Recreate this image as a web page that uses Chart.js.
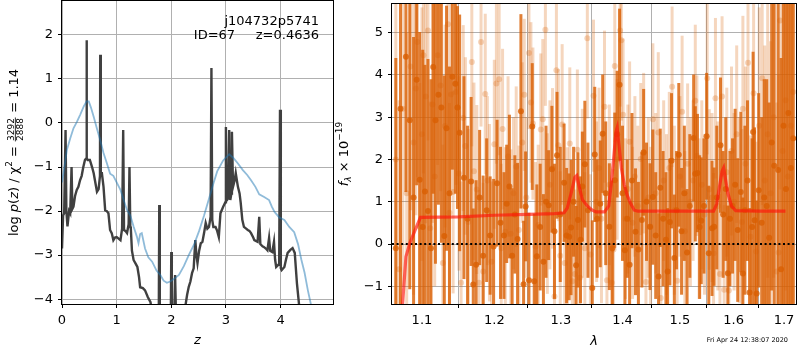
<!DOCTYPE html>
<html>
<head>
<meta charset="utf-8">
<script src="https://cdn.jsdelivr.net/npm/chart.js@4.4.1/dist/chart.umd.min.js"></script>
<style>
  body { margin: 0; background: #fff; }
  #wrap { position: relative; width: 800px; height: 350px; }
  canvas { position: absolute; top: 0; }
</style>
</head>
<body>
<div id="wrap">
  <canvas id="pz" width="336" height="350" style="left:0"></canvas>
  <canvas id="spec" width="470" height="350" style="left:330px"></canvas>
</div>
<script>
// --- p(z) panel ---
const zFit = [0.00, 0.02, 0.04, 0.065, 0.08, 0.10, 0.13, 0.15, 0.175, 0.19, 0.21, 0.24, 0.27, 0.30, 0.33, 0.36, 0.39, 0.42, 0.445, 0.45, 0.455, 0.47, 0.51, 0.55, 0.58, 0.61, 0.64, 0.67, 0.695, 0.70, 0.71, 0.73, 0.76, 0.79, 0.82, 0.85, 0.88, 0.91, 0.94, 0.97, 1.00, 1.03, 1.07, 1.10, 1.12, 1.135, 1.16, 1.19, 1.22, 1.235, 1.25, 1.26, 1.28, 1.31, 1.35, 1.38, 1.41, 1.43, 1.48, 1.52, 1.57, 1.62, 1.66, 1.72, 1.77, 1.78, 1.79, 1.85, 1.95, 1.99, 2.00, 2.01, 2.05, 2.07, 2.09, 2.15, 2.20, 2.26, 2.29, 2.32, 2.35, 2.38, 2.41, 2.44, 2.46, 2.48, 2.51, 2.54, 2.57, 2.60, 2.63, 2.66, 2.69, 2.72, 2.735, 2.75, 2.77, 2.81, 2.84, 2.87, 2.90, 2.95, 2.99, 3.00, 3.02, 3.05, 3.06, 3.08, 3.10, 3.11, 3.13, 3.16, 3.18, 3.20, 3.22, 3.25, 3.27, 3.30, 3.33, 3.37, 3.40, 3.43, 3.46, 3.50, 3.52, 3.58, 3.61, 3.63, 3.67, 3.70, 3.73, 3.76, 3.79, 3.81, 3.85, 3.88, 3.90, 3.92, 3.975, 3.99, 4.005, 4.02, 4.07, 4.10, 4.13, 4.18, 4.22, 4.26, 4.30, 4.34, 4.40];
const logpFit = [-2.85, -2.10, -2.05, -0.16, -2.00, -2.35, -2.00, -2.05, -1.00, -1.95, -1.90, -1.65, -1.52, -1.45, -1.30, -1.20, -1.00, -0.84, -0.80, 1.88, -0.80, -0.84, -0.84, -1.00, -1.14, -1.35, -1.56, -1.50, -1.20, 1.55, -1.14, -1.14, -1.45, -1.98, -2.00, -2.05, -2.43, -2.50, -2.66, -2.60, -2.59, -2.62, -2.66, -2.40, -0.16, -2.43, -2.45, -2.50, -2.30, -1.00, -2.35, -2.40, -2.90, -3.11, -3.20, -3.27, -3.50, -3.73, -3.75, -3.80, -3.95, -4.07, -4.40, -4.60, -4.80, -1.86, -4.80, -4.90, -4.90, -4.60, -2.93, -4.50, -4.60, -3.45, -4.60, -4.80, -4.60, -4.14, -3.90, -3.72, -3.60, -3.41, -3.30, -2.66, -3.00, -3.18, -2.90, -2.73, -2.70, -2.50, -2.27, -2.40, -2.36, -2.13, 1.25, -2.20, -2.36, -2.36, -2.45, -2.59, -2.05, -1.90, -1.80, -0.09, -1.75, -1.70, -0.16, -1.75, -1.60, -0.20, -1.45, -1.30, -1.14, -1.30, -1.45, -1.60, -1.80, -2.20, -2.36, -2.40, -2.43, -2.45, -2.50, -2.60, -2.66, -2.70, -2.13, -2.75, -2.80, -2.82, -2.85, -2.89, -2.61, -2.90, -2.93, -2.70, -3.10, -3.27, -3.20, 0.30, -3.30, -3.34, -3.27, -3.10, -2.95, -2.88, -2.84, -2.95, -3.64, -4.14, -4.80];
const zPrior = [0.00, 0.05, 0.09, 0.15, 0.21, 0.27, 0.33, 0.40, 0.45, 0.49, 0.53, 0.58, 0.64, 0.70, 0.76, 0.82, 0.88, 0.94, 1.07, 1.19, 1.25, 1.31, 1.37, 1.40, 1.43, 1.46, 1.52, 1.58, 1.65, 1.73, 1.80, 1.86, 1.92, 1.98, 2.04, 2.14, 2.23, 2.32, 2.42, 2.51, 2.60, 2.69, 2.77, 2.84, 2.95, 3.06, 3.14, 3.22, 3.31, 3.39, 3.46, 3.54, 3.61, 3.70, 3.79, 3.84, 3.89, 3.98, 4.07, 4.16, 4.25, 4.32, 4.38, 4.44, 4.50, 4.56, 4.60];
const logpPrior = [-1.35, -0.95, -0.61, -0.35, -0.12, 0.02, 0.18, 0.38, 0.49, 0.49, 0.35, 0.14, -0.13, -0.39, -0.68, -0.91, -1.15, -1.20, -1.52, -1.98, -2.10, -2.35, -2.58, -2.73, -2.52, -2.50, -2.85, -3.05, -3.15, -3.35, -3.45, -3.58, -3.63, -3.60, -3.55, -3.45, -3.25, -3.00, -2.75, -2.45, -2.10, -1.72, -1.38, -1.10, -0.85, -0.71, -0.80, -0.92, -1.07, -1.18, -1.30, -1.45, -1.62, -1.68, -1.75, -1.90, -2.02, -2.15, -2.20, -2.36, -2.48, -2.75, -3.10, -3.40, -3.80, -4.14, -4.40];
const zTicks = [0, 1, 2, 3, 4];
const logpTicks = [-4, -3, -2, -1, 0, 1, 2];

// --- spectrum panel ---
const waveDark = [1.066, 1.072, 1.079, 1.084, 1.089, 1.093, 1.097, 1.101, 1.104, 1.108, 1.112, 1.115, 1.118, 1.122, 1.126, 1.130, 1.133, 1.137, 1.141, 1.145, 1.148, 1.151, 1.157, 1.162, 1.167, 1.170, 1.174, 1.179, 1.184, 1.189, 1.194, 1.199,
  1.204, 1.209, 1.214, 1.218, 1.222, 1.226, 1.230, 1.234, 1.239, 1.243, 1.246, 1.251, 1.256, 1.259, 1.263, 1.268, 1.273, 1.277, 1.281, 1.286, 1.290, 1.294, 1.299,
  1.305, 1.309, 1.313, 1.316, 1.320, 1.324, 1.327, 1.331, 1.334, 1.338, 1.343, 1.350, 1.354, 1.358, 1.363, 1.367, 1.372, 1.378, 1.383, 1.387, 1.391, 1.395,
  1.400, 1.404, 1.408, 1.412, 1.416, 1.422, 1.427, 1.433, 1.436, 1.441, 1.447, 1.452, 1.457, 1.462, 1.465, 1.470, 1.475, 1.478, 1.482, 1.485, 1.490, 1.494, 1.498,
  1.503, 1.508, 1.513, 1.518, 1.525, 1.528, 1.532, 1.536, 1.539, 1.544, 1.549, 1.553, 1.559, 1.563, 1.568, 1.575, 1.580, 1.585, 1.589, 1.593, 1.598,
  1.603, 1.608, 1.614, 1.618, 1.622, 1.627, 1.631, 1.636, 1.638, 1.641, 1.645, 1.649, 1.655, 1.660, 1.665, 1.670, 1.675, 1.680, 1.688, 1.694, 1.699, 1.704, 1.709, 1.714, 1.719];
const fluxDark = [-0.10, 3.20, 4.43, 2.93, 1.10, 3.89, 1.52, 0.40, 1.24, 0.78, -0.10, 4.19, 2.93, 3.53, 3.23, 0.19, 2.74, 1.20, 3.96, 3.79, 3.23, 2.63, 1.57, 0.60, 1.48, -0.96, -0.49, 1.10, -0.28, 0.80, 0.20, -0.06,
  1.44, 0.50, 0.20, 0.95, 1.36, -0.28, 0.70, 0.12, 3.14, -0.95, 0.89, -0.86, 2.78, -0.88, -0.29, 0.40, -0.42, 1.00, 0.92, 1.77, 0.30, 2.10, 0.70,
  1.45, 0.20, 0.17, 0.39, 1.00, -0.50, 0.57, 0.10, 1.36, 1.89, 0.80, -1.04, 2.12, 0.60, 0.95, 2.61, 1.20, 0.41, -0.10, 1.51, 2.60, 3.77,
  1.20, -0.15, 0.60, -0.49, 1.50, 0.29, -0.13, 0.57, 2.17, 1.00, 0.41, 1.11, 0.20, -0.77, 1.33, 0.60, 0.10, -0.65, 0.52, 1.97, -0.33, 0.80, 2.11,
  0.30, 1.20, -0.20, 0.90, 2.51, 1.66, 1.68, 0.40, 0.55, 0.90, 2.55, -0.22, 0.37, 0.41, 1.10, 2.34, 0.70, 1.30, -0.69, 0.60, 0.90,
  1.40, 0.33, 1.23, -0.70, 0.80, 1.50, -1.15, 0.40, 2.65, 0.56, -1.17, 1.27, 0.50, 1.10, 0.90, 0.15, 2.40, 1.85, 1.75, -0.60, 2.80, 1.30, 3.10, 1.80, 2.50];
const errDark = [4.5, 5.0, 3.2, 4.0, 3.8, 2.5, 3.5, 4.2, 3.0, 3.6, 4.0, 3.0, 3.4, 2.6, 3.2, 3.8, 2.9, 3.0, 2.2, 2.6, 2.4, 2.8, 2.4, 2.2, 2.0, 1.8, 2.0, 1.6, 1.9, 1.7, 1.4, 1.6,
  1.5, 1.8, 1.5, 1.4, 1.7, 1.6, 1.4, 1.8, 2.3, 1.5, 1.3, 1.6, 1.5, 1.6, 1.7, 1.5, 1.6, 1.8, 1.3, 1.5, 1.6, 1.5, 1.6,
  1.4, 1.6, 1.5, 1.6, 1.3, 1.4, 1.6, 1.5, 1.3, 1.5, 1.6, 1.6, 1.6, 1.4, 1.5, 1.4, 1.7, 1.5, 1.6, 1.6, 1.5, 1.8,
  1.6, 1.5, 1.4, 1.5, 1.6, 1.5, 1.6, 1.6, 1.5, 1.4, 1.5, 1.6, 1.5, 1.5, 1.4, 1.6, 1.6, 1.5, 1.5, 1.6, 1.5, 1.4, 1.7,
  1.5, 1.6, 1.5, 1.7, 1.5, 1.6, 1.4, 1.7, 1.5, 1.6, 1.5, 1.6, 1.6, 1.4, 1.7, 1.6, 1.5, 1.7, 1.6, 1.6, 1.6,
  1.8, 1.7, 1.9, 1.8, 2.0, 1.9, 2.0, 2.1, 1.9, 2.2, 2.2, 2.3, 2.5, 2.8, 3.0, 3.2, 3.5, 4.0, 4.5, 5.0, 5.0, 5.5, 5.5, 6.0, 6.0];

const waveLight = [1.066, 1.070, 1.075, 1.080, 1.085, 1.089, 1.092, 1.094, 1.097, 1.100, 1.102, 1.105, 1.108, 1.111, 1.114, 1.117, 1.121, 1.125, 1.128, 1.131, 1.135, 1.137, 1.139, 1.142, 1.146, 1.150, 1.153, 1.156, 1.159, 1.163, 1.168, 1.171, 1.175, 1.178, 1.181, 1.184, 1.187, 1.190, 1.193, 1.196,
  1.200, 1.203, 1.207, 1.210, 1.212, 1.216, 1.220, 1.224, 1.228, 1.232, 1.236, 1.241, 1.244, 1.247, 1.251, 1.254, 1.257, 1.261, 1.265, 1.269, 1.272, 1.276, 1.279, 1.283, 1.287, 1.290, 1.293, 1.296, 1.299,
  1.302, 1.306, 1.310, 1.314, 1.318, 1.322, 1.326, 1.330, 1.334, 1.338, 1.342, 1.347, 1.352, 1.357, 1.361, 1.365, 1.370, 1.374, 1.378, 1.382, 1.385, 1.387, 1.391, 1.396, 1.398,
  1.401, 1.405, 1.409, 1.412, 1.417, 1.421, 1.426, 1.431, 1.436, 1.440, 1.444, 1.448, 1.452, 1.457, 1.4615, 1.466, 1.471, 1.476, 1.481, 1.486, 1.490, 1.495,
  1.500, 1.504, 1.509, 1.514, 1.519, 1.524, 1.528, 1.531, 1.535, 1.540, 1.545, 1.550, 1.554, 1.559, 1.562, 1.5655, 1.570, 1.574, 1.578, 1.582, 1.587, 1.591, 1.596,
  1.601, 1.606, 1.611, 1.616, 1.618, 1.623, 1.628, 1.633, 1.639, 1.644, 1.650, 1.656, 1.661, 1.667, 1.673, 1.679, 1.685, 1.689, 1.692, 1.697, 1.703, 1.708, 1.714, 1.719];
const fluxLight = [2.00, -0.60, 3.20, 1.20, 4.20, 2.40, 3.68, 4.78, 0.41, 2.60, 4.47, 3.49, 5.05, 0.37, 3.30, 1.60, 4.47, 3.75, -0.45, 2.79, 5.20, 0.74, 3.54, 1.23, 3.60, 1.67, -0.92, 2.98, 2.32, 0.52, 4.31, 1.72, 1.29, -0.92, 4.78, -0.65, 3.55, 1.50, 0.74, -0.42,
  2.36, 3.80, 3.90, -0.10, 2.72, 0.29, 2.07, 0.24, 1.20, 1.83, 0.33, 2.40, 3.53, 1.10, 4.52, 3.35, 2.85, -0.06, 0.45, 2.71, 2.95, 5.07, 0.72, 1.40, 1.79, -1.24, 4.11, 2.34, -0.28,
  2.83, -0.45, 0.29, 2.38, -0.88, -0.71, 2.23, -0.80, 1.20, -0.10, 4.87, -0.25, 3.51, 1.00, 1.80, 0.60, 3.25, -0.86, 1.40, -0.92, -0.13, 4.21, 2.00, 5.05, 4.82,
  3.06, 0.60, 1.30, 2.42, 0.50, 1.60, 0.90, 2.01, 2.15, -0.90, 1.10, 0.40, 2.95, 1.20, 2.64, -1.28, 1.50, 0.70, 1.80, 3.72, 0.80, -0.87,
  1.60, 3.13, 0.30, 1.90, 1.00, 1.50, 3.39, 2.09, 0.60, 1.40, 0.70, 3.92, 1.29, 1.10, -0.22, 3.45, 0.90, -0.71, 3.49, -1.08, 1.70, -1.10, 2.20,
  1.00, 2.60, 0.80, 0.52, 3.20, 1.90, 4.29, 0.17, 3.57, -0.18, 2.80, 3.92, 1.50, 2.60, 1.20, 3.00, -0.65, -0.20, 5.29, 2.20, 3.40, 1.60, 2.80, 3.60];
const errLight = [4.5, 4.0, 4.2, 3.8, 3.4, 3.6, 3.0, 3.2, 3.4, 3.0, 2.8, 3.0, 2.6, 3.0, 2.8, 2.6, 2.6, 2.5, 2.8, 2.4, 2.4, 2.6, 2.3, 2.4, 2.2, 2.3, 2.4, 2.2, 2.1, 2.2, 2.0, 2.1, 2.0, 2.2, 2.0, 2.1, 1.9, 2.0, 2.1, 1.9,
  2.0, 1.9, 1.8, 2.0, 1.9, 2.0, 1.9, 2.0, 1.8, 1.9, 2.0, 1.9, 1.8, 1.9, 1.8, 1.9, 1.8, 2.0, 1.9, 1.8, 1.9, 1.8, 1.9, 2.0, 1.9, 1.8, 1.9, 1.8, 2.0,
  1.9, 1.9, 2.0, 1.8, 1.9, 2.0, 1.9, 1.9, 2.0, 1.8, 1.9, 1.9, 1.8, 1.9, 1.9, 2.0, 1.8, 1.9, 1.9, 2.0, 1.9, 1.8, 1.9, 1.8, 1.9,
  1.8, 1.9, 2.0, 1.9, 1.8, 1.9, 1.9, 1.8, 1.9, 2.0, 1.9, 1.9, 1.8, 1.9, 1.9, 2.0, 1.9, 1.9, 1.8, 1.9, 2.0, 1.9,
  1.9, 1.8, 1.9, 1.9, 2.0, 1.9, 1.8, 1.9, 1.9, 2.0, 1.9, 1.8, 1.9, 2.0, 1.9, 1.9, 2.0, 1.9, 1.9, 2.0, 2.0, 2.0, 2.0,
  2.1, 2.1, 2.2, 2.2, 2.2, 2.3, 2.3, 2.4, 2.5, 2.6, 2.8, 3.0, 3.2, 3.4, 3.6, 3.8, 4.0, 4.2, 4.0, 4.5, 4.5, 5.0, 5.0, 5.0];

const waveModel = [1.074, 1.079, 1.084, 1.091, 1.098, 1.15, 1.20, 1.25, 1.29, 1.305, 1.310, 1.316, 1.322, 1.325, 1.329, 1.334, 1.342, 1.350, 1.356, 1.370, 1.377, 1.381, 1.385, 1.389, 1.391, 1.394, 1.398, 1.403, 1.408, 1.414, 1.420, 1.426, 1.50, 1.562, 1.568, 1.573, 1.578, 1.581, 1.585, 1.589, 1.596, 1.604, 1.65, 1.703];
const fluxModel = [-1.60, -0.30, 0.02, 0.33, 0.63, 0.64, 0.68, 0.70, 0.72, 0.74, 0.85, 1.20, 1.58, 1.62, 1.35, 1.05, 0.90, 0.80, 0.76, 0.76, 0.90, 1.40, 2.00, 2.65, 2.75, 2.35, 1.80, 1.40, 1.15, 0.95, 0.80, 0.78, 0.78, 0.78, 0.95, 1.35, 1.72, 1.80, 1.50, 1.20, 0.90, 0.79, 0.78, 0.78];
const waveTicks = [1.1, 1.2, 1.3, 1.4, 1.5, 1.6, 1.7];
const fluxTicks = [-1, 0, 1, 2, 3, 4, 5];
const waveRange = [1.0611, 1.7247];

Chart.defaults.font.family = "'DejaVu Sans', sans-serif";
Chart.defaults.font.size = 13;
Chart.defaults.color = '#000';
Chart.defaults.animation = false;

const FN = '13px "DejaVu Sans"';
const FI = 'italic 13px "DejaVu Sans"';
const FS = '9px "DejaVu Sans"';
const FSI = 'italic 9px "DejaVu Sans"';

const minus = v => (v < 0 ? '\u2212' + Math.abs(v) : String(v));
const pts = (xs, ys) => xs.map((x, i) => ({ x: x, y: ys[i] }));
const errBars = (xs, ys, es) => xs.map((x, i) => ({ x: x, y: [ys[i] - es[i], ys[i] + es[i]] }));

// axes look like matplotlib: grey grid, short black ticks, fixed axis size
function axis(extra, tickList, fmt, pad, fixed) {
  return Object.assign({
    afterBuildTicks: s => { s.ticks = tickList.map(v => ({ value: v })); },
    afterFit: s => {
      if (s.isHorizontal()) s.height = fixed; else s.width = fixed;
      s.paddingTop = 0; s.paddingBottom = 0; s.paddingLeft = 0; s.paddingRight = 0;
    },
    ticks: { callback: fmt, padding: pad, autoSkip: false, maxRotation: 0 },
    grid: { color: '#b0b0b0', lineWidth: 1, tickColor: '#000', tickLength: 4 },
    border: { display: false }
  }, extra);
}

// black box round the plot area
const frame = {
  id: 'frame',
  afterDatasetsDraw(chart) {
    const { ctx, chartArea: a } = chart;
    ctx.save();
    ctx.strokeStyle = '#000';
    ctx.lineWidth = 1;
    ctx.strokeRect(a.left - 0.5, a.top - 0.5, a.right - a.left + 1, a.bottom - a.top + 1);
    ctx.restore();
  }
};

// rotated y title built from pieces (italic, sub/superscript, fraction)
function drawRich(ctx, segs, x, y) {
  ctx.save();
  ctx.translate(x, y);
  ctx.rotate(-Math.PI / 2);
  ctx.fillStyle = '#000';
  ctx.textBaseline = 'alphabetic';
  let total = 0;
  segs.forEach(s => {
    ctx.font = s.f;
    s.w = s.num ? Math.max(ctx.measureText(s.num).width, ctx.measureText(s.den).width) + 2 : ctx.measureText(s.t).width;
    total += s.w;
  });
  let cx = -total / 2;
  segs.forEach(s => {
    ctx.font = s.f;
    if (s.num) {
      ctx.textAlign = 'center';
      ctx.fillText(s.num, cx + s.w / 2, -3.5);
      ctx.fillText(s.den, cx + s.w / 2, 5.5);
      ctx.fillRect(cx + 0.5, -2.6, s.w - 1, 0.8);
    } else {
      ctx.textAlign = 'left';
      ctx.fillText(s.t, cx, s.dy || 0);
    }
    cx += s.w;
  });
  ctx.restore();
}

const pzText = {
  id: 'pzText',
  afterDraw(chart) {
    const { ctx, chartArea: a } = chart;
    drawRich(ctx, [
      { t: 'log ', f: FN }, { t: 'p', f: FI }, { t: '(', f: FN }, { t: 'z', f: FI },
      { t: ') / \u03c7', f: FN }, { t: '2', f: FS, dy: -5.5 }, { t: ' = ', f: FN },
      { num: '3292', den: '2888', f: FS }, { t: ' = 1.14', f: FN }
    ], 17.5, (a.top + a.bottom) / 2);
    ctx.save();
    ctx.fillStyle = '#000';
    ctx.textAlign = 'right';
    ctx.font = FN;
    ctx.fillText('j104732p5741', a.right - 14, 25);
    ctx.fillText('ID=67     z=0.4636', a.right - 14, 39);
    ctx.textAlign = 'center';
    ctx.font = FI;
    ctx.fillText('z', (a.left + a.right) / 2, 344);
    ctx.restore();
  }
};

const specText = {
  id: 'specText',
  afterDraw(chart) {
    const { ctx, chartArea: a } = chart;
    drawRich(ctx, [
      { t: 'f', f: FI }, { t: '\u03bb', f: FSI, dy: 3 }, { t: ' \u00d7 10', f: FN }, { t: '\u221219', f: FS, dy: -5.5 }
    ], 17.5, (a.top + a.bottom) / 2);
    ctx.save();
    ctx.fillStyle = '#000';
    ctx.textAlign = 'center';
    ctx.font = FI;
    ctx.fillText('\u03bb', (a.left + a.right) / 2, 345);
    ctx.textAlign = 'right';
    ctx.font = '6.5px "DejaVu Sans"';
    ctx.fillText('Fri Apr 24 12:38:07 2020', 458, 342);
    ctx.restore();
  }
};

new Chart(document.getElementById('pz'), {
  type: 'line',
  data: {
    datasets: [
      { data: pts(zPrior, logpPrior), borderColor: 'rgba(31,119,180,0.5)', borderWidth: 1.8, pointRadius: 0, clip: 0, order: 0 },
      { data: pts(zFit, logpFit), borderColor: '#404040', borderWidth: 2.4, pointRadius: 0, clip: 0, order: 1 }
    ]
  },
  options: {
    responsive: false,
    events: [],
    layout: { padding: { top: 1, right: 3 } },
    plugins: { legend: { display: false }, tooltip: { enabled: false } },
    elements: { line: { tension: 0 } },
    scales: {
      x: axis({ type: 'linear', min: 0, max: 4.96 }, zTicks, v => minus(v), 5, 46),
      y: axis({ type: 'linear', min: -4.11, max: 2.77 }, logpTicks, v => minus(v), 5, 62)
    }
  },
  plugins: [frame, pzText]
});

const dark = 'rgba(217,95,2,0.8)';
const light = 'rgba(217,95,2,0.26)';

new Chart(document.getElementById('spec'), {
  type: 'bar',
  data: {
    datasets: [
      { type: 'line', data: pts(waveModel, fluxModel), borderColor: 'rgba(255,20,10,0.65)', borderWidth: 3.2, pointRadius: 0, tension: 0, clip: 0, order: 0 },
      { type: 'line', data: [{ x: waveRange[0], y: 0 }, { x: waveRange[1], y: 0 }], borderColor: '#000', borderWidth: 2, borderDash: [2, 2.6], pointRadius: 0, clip: 0, order: 1 },
      { type: 'line', showLine: false, data: pts(waveDark, fluxDark), pointRadius: 3, pointBackgroundColor: dark, pointBorderWidth: 0, clip: 0, order: 2 },
      { type: 'bar', data: errBars(waveDark, fluxDark, errDark), backgroundColor: dark, barThickness: 3, stack: 'err', borderWidth: 0, inflateAmount: 0, clip: 0, order: 3 },
      { type: 'line', showLine: false, data: pts(waveLight, fluxLight), pointRadius: 3, pointBackgroundColor: light, pointBorderWidth: 0, clip: 0, order: 4 },
      { type: 'bar', data: errBars(waveLight, fluxLight, errLight), backgroundColor: light, barThickness: 3, stack: 'err', borderWidth: 0, inflateAmount: 0, clip: 0, order: 5 }
    ]
  },
  options: {
    responsive: false,
    events: [],
    layout: { padding: { top: 1, right: 3 } },
    plugins: { legend: { display: false }, tooltip: { enabled: false } },
    scales: {
      x: axis({ type: 'logarithmic', min: waveRange[0], max: waveRange[1], offset: false }, waveTicks, v => Number(v).toFixed(1), 5, 46),
      y: axis({ type: 'linear', min: -1.42, max: 5.68, stacked: false }, fluxTicks, v => minus(v), 5, 62)
    }
  },
  plugins: [frame, specText]
});
</script>
</body>
</html>
